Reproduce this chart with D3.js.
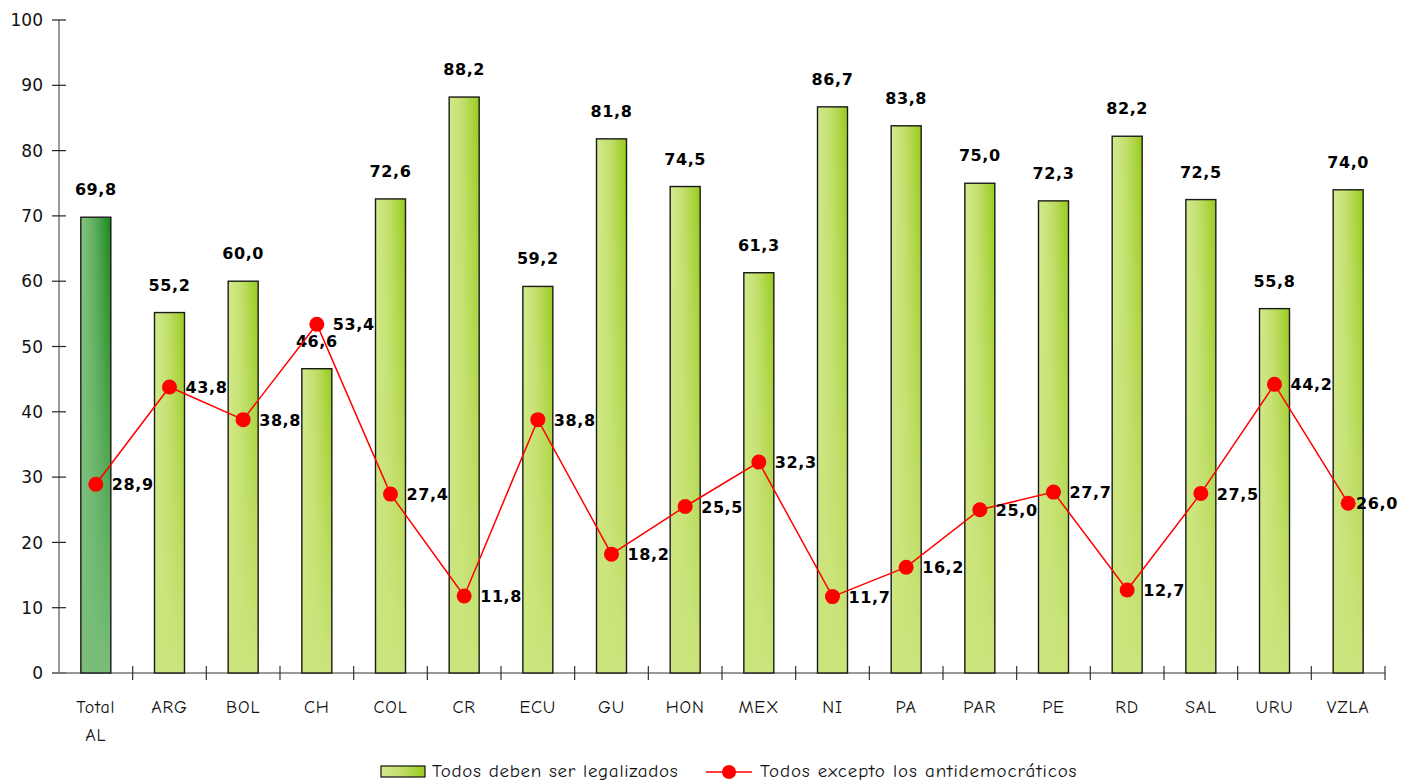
<!DOCTYPE html>
<html><head><meta charset="utf-8">
<script src="https://cdn.jsdelivr.net/npm/d3@7"></script>
<style>body{margin:0;background:#fff}svg{font-family:"Comic Sans MS","Comic Neue","DejaVu Sans",sans-serif}.num{font-family:"DejaVu Sans",Verdana,sans-serif}</style>
</head><body><svg id="c" width="1401" height="784"></svg>
<script>
const categories = ["Total AL","ARG","BOL","CH","COL","CR","ECU","GU","HON","MEX","NI","PA","PAR","PE","RD","SAL","URU","VZLA"];
const barValues = [69.8,55.2,60.0,46.6,72.6,88.2,59.2,81.8,74.5,61.3,86.7,83.8,75.0,72.3,82.2,72.5,55.8,74.0];
const lineValues = [28.9,43.8,38.8,53.4,27.4,11.8,38.8,18.2,25.5,32.3,11.7,16.2,25.0,27.7,12.7,27.5,44.2,26.0];
const yTicks = [0,10,20,30,40,50,60,70,80,90,100];
const barName = "Todos deben ser legalizados";
const lineName = "Todos excepto los antidemocráticos";

const svg = d3.select("#c");
const defs = svg.append("defs");
function hgrad(id, c1, c2, c3){
  const g = defs.append("linearGradient").attr("id", id).attr("x1","0").attr("x2","1").attr("y1","0").attr("y2","0");
  g.append("stop").attr("offset","0%").attr("stop-color",c1);
  g.append("stop").attr("offset","45%").attr("stop-color",c2);
  g.append("stop").attr("offset","100%").attr("stop-color",c3);
}
function vfade(id, c){
  const g = defs.append("linearGradient").attr("id", id).attr("x1","0").attr("x2","0").attr("y1","0").attr("y2","1");
  g.append("stop").attr("offset","0%").attr("stop-color",c).attr("stop-opacity",0);
  g.append("stop").attr("offset","100%").attr("stop-color",c).attr("stop-opacity",1);
}
hgrad("gGreen","#d3ea8e","#c2df6c","#98cb1c");
hgrad("gDark","#84c684","#5fae5f","#188818");
vfade("fGreen","#cbe47c");
vfade("fDark","#79bd79");

const x = d3.scaleBand().domain(categories).range([59,1385]).paddingInner(0).paddingOuter(0);
const y = d3.scaleLinear().domain([0,100]).range([673,20]);
const bw = 30;
const fmt = d => d.toFixed(1).replace(".",",");
const cx = i => x(categories[i]) + x.bandwidth()/2;

// y axis
svg.append("line").attr("x1",59).attr("x2",59).attr("y1",y(0)).attr("y2",y(100)).attr("stroke","#777").attr("stroke-width",1.5);
yTicks.forEach(t=>{
  svg.append("line").attr("x1",52).attr("x2",66).attr("y1",y(t)).attr("y2",y(t)).attr("stroke","#222").attr("stroke-width",1.2);
  svg.append("text").attr("class","num").attr("x",43).attr("y",y(t)).attr("dy","0.36em").attr("text-anchor","end").attr("font-size",17).attr("fill","#111").text(t);
});
// x axis
svg.append("line").attr("x1",52).attr("x2",1385).attr("y1",y(0)).attr("y2",y(0)).attr("stroke","#777").attr("stroke-width",1.5);
categories.forEach((c,i)=>{
  const xe = x(c)+x.bandwidth();
  svg.append("line").attr("x1",xe).attr("x2",xe).attr("y1",y(0)-7).attr("y2",y(0)+7).attr("stroke","#333").attr("stroke-width",1.2);
});

// bars: horizontal gradient + vertical fade to flat colour
const bars = svg.selectAll("g.bar").data(barValues).join("g").attr("class","bar");
bars.append("rect")
  .attr("x",(d,i)=>cx(i)-bw/2).attr("y",d=>y(d)).attr("width",bw).attr("height",d=>y(0)-y(d))
  .attr("fill",(d,i)=>i===0?"url(#gDark)":"url(#gGreen)");
bars.append("rect")
  .attr("x",(d,i)=>cx(i)-bw/2).attr("y",d=>y(d)).attr("width",bw).attr("height",d=>y(0)-y(d))
  .attr("fill",(d,i)=>i===0?"url(#fDark)":"url(#fGreen)");
bars.append("rect")
  .attr("x",(d,i)=>cx(i)-bw/2).attr("y",d=>y(d)).attr("width",bw).attr("height",d=>y(0)-y(d))
  .attr("fill","none").attr("stroke","#1a1a1a").attr("stroke-width",1.4);

// bar labels
svg.selectAll("text.bl").data(barValues).join("text").attr("class","bl num")
  .attr("x",(d,i)=>cx(i)).attr("y",d=>y(d)-22)
  .attr("text-anchor","middle").attr("font-size",16).attr("font-weight","bold").attr("letter-spacing","0.6px").attr("fill","#000")
  .text(fmt);

// line
const line = d3.line().x((d,i)=>cx(i)).y(d=>y(d));
svg.append("path").datum(lineValues).attr("d",line).attr("fill","none").attr("stroke","#ff0000").attr("stroke-width",1.5);
svg.selectAll("circle.pt").data(lineValues).join("circle").attr("class","pt")
  .attr("cx",(d,i)=>cx(i)).attr("cy",d=>y(d)).attr("r",7.5).attr("fill","#ff0000");
svg.selectAll("text.ll").data(lineValues).join("text").attr("class","ll num")
  .attr("x",(d,i)=>Math.min(cx(i)+16, 1356)).attr("y",d=>y(d))
  .attr("dy","0.38em").attr("font-size",16).attr("font-weight","bold").attr("letter-spacing","0.6px").attr("fill","#000")
  .text(fmt);

// x labels
categories.forEach((c,i)=>{
  c.split(" ").forEach((p,j)=>{
    svg.append("text").attr("x",cx(i)).attr("y",713+j*28).attr("text-anchor","middle").attr("font-size",18).attr("letter-spacing","0.8px").attr("fill","#111").text(p);
  });
});

// legend
const lg = svg.append("g");
lg.append("rect").attr("x",381).attr("y",766).attr("width",44).attr("height",11).attr("fill","url(#gGreen)").attr("stroke","#111").attr("stroke-width",1.2);
lg.append("text").attr("x",432).attr("y",777).attr("font-size",19).attr("letter-spacing","0.7px").attr("fill","#111").text(barName);
lg.append("line").attr("x1",706).attr("x2",752).attr("y1",772).attr("y2",772).attr("stroke","#ff0000").attr("stroke-width",1.5);
lg.append("circle").attr("cx",729).attr("cy",772).attr("r",7).attr("fill","#ff0000");
lg.append("text").attr("x",760).attr("y",777).attr("font-size",19).attr("letter-spacing","0.9px").attr("fill","#111").text(lineName);
</script></body></html>
